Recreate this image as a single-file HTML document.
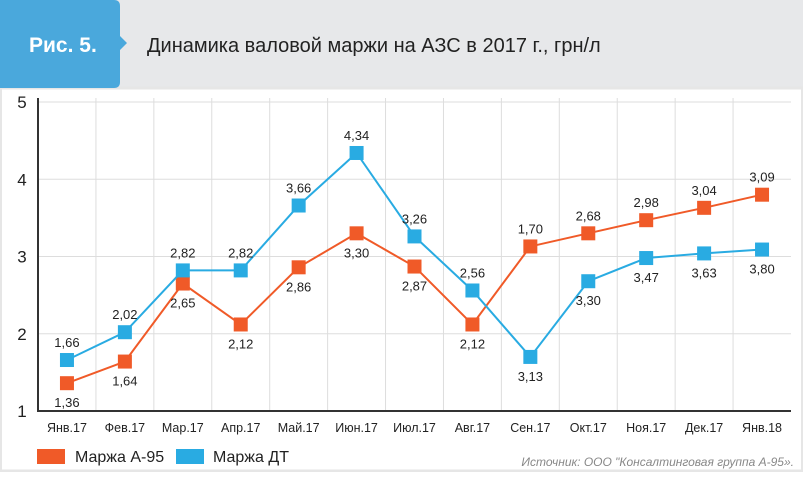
<!DOCTYPE html>
<html><head><meta charset="utf-8"><style>
body{margin:0;width:803px;height:472px;overflow:hidden;background:#fff;font-family:"Liberation Sans",sans-serif}
</style></head><body>
<svg width="803" height="472" xmlns="http://www.w3.org/2000/svg" id="svg">
<rect x="0" y="0" width="803" height="88" fill="#e7e8ea"/>
<rect x="0.5" y="88" width="802" height="383" fill="#fff" stroke="#e6e6e6" stroke-width="3"/>
<path d="M0 0H114Q120 0 120 6V36L127 43L120 50V82Q120 88 114 88H0Z" fill="#4aa8dc"/>
<text x="29" y="52" fill="#fff" font-size="21" font-weight="bold">Рис. 5.</text>
<text x="147" y="52" fill="#222" font-size="20">Динамика валовой маржи на АЗС в 2017 г., грн/л</text>
<g id="grid"></g><g id="marks"></g>
<rect x="37" y="449" width="28" height="15" fill="#f05a28"/>
<text x="75" y="462" font-size="16" fill="#222">Маржа А-95</text>
<rect x="176" y="449" width="28" height="15" fill="#29abe2"/>
<text x="213" y="462" font-size="16" fill="#222">Маржа ДТ</text>
<text x="794" y="466" font-size="12" fill="#888" font-style="italic" text-anchor="end">Источник: ООО "Консалтинговая группа А-95».</text>
</svg>
<script>
const categories=["Янв.17","Фев.17","Мар.17","Апр.17","Май.17","Июн.17","Июл.17","Авг.17","Сен.17","Окт.17","Ноя.17","Дек.17","Янв.18"];
const a95=[1.36,1.64,2.65,2.12,2.86,3.30,2.87,2.12,3.13,3.30,3.47,3.63,3.80];
const dt=[1.66,2.02,2.82,2.82,3.66,4.34,3.26,2.56,1.70,2.68,2.98,3.04,3.09];
const yTicks=[1,2,3,4,5];
const NS="http://www.w3.org/2000/svg";
const L=38,R=791,T=98,B=411;
const step=(R-L)/categories.length;
const x=i=>L+step*(i+0.5);
const y=v=>B-(v-1)*(B-102)/4;
const grid=document.getElementById('grid'),marks=document.getElementById('marks');
function mk(t,a,p){const e=document.createElementNS(NS,t);for(const k in a)e.setAttribute(k,a[k]);(p||marks).appendChild(e);return e;}
for(let i=1;i<categories.length;i++){const l=mk('line',{x1:L+step*i,x2:L+step*i,y1:T,y2:B,stroke:'#ddd','stroke-width':1},grid);

}
yTicks.forEach(v=>{if(v>1){const l=mk('line',{x1:L,x2:R,y1:y(v),y2:y(v),stroke:'#ddd'},grid);

}
const t=mk('text',{x:22,y:y(v)+6,'font-size':17,'text-anchor':'middle',fill:'#222'},grid);t.textContent=v;

});
const ax=mk('path',{d:`M${L} ${T}V${B}H${R}`,fill:'none',stroke:'#333','stroke-width':2},grid);


categories.forEach((c,i)=>{const t=mk('text',{x:x(i),y:432,'font-size':12.5,'text-anchor':'middle',fill:'#222'},grid);t.textContent=c;

});
function series(d,col,name){
const p=mk('polyline',{points:d.map((v,i)=>x(i)+','+y(v)).join(' '),fill:'none',stroke:col,'stroke-width':2});


d.forEach((v,i)=>{const r=mk('rect',{x:x(i)-7,y:y(v)-7,width:14,height:14,fill:col});

});}
series(a95,'#f05a28','a95');series(dt,'#29abe2','dt');
const fmt=v=>v.toFixed(2).replace('.',',');
categories.forEach((c,i)=>{
const hi=Math.max(a95[i],dt[i]),lo=Math.min(a95[i],dt[i]);
const t1=mk('text',{x:x(i),y:y(hi)-13,'font-size':13,'text-anchor':'middle',fill:'#222'});t1.textContent=fmt(dt[i]);


const t2=mk('text',{x:x(i),y:y(lo)+24,'font-size':13,'text-anchor':'middle',fill:'#222'});t2.textContent=fmt(a95[i]);

});
</script>
</body></html>
